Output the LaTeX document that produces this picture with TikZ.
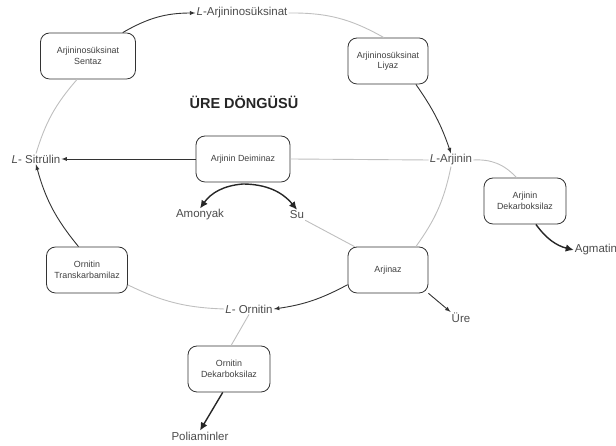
\documentclass[tikz,border=0pt]{standalone}
\usepackage{fontspec}
\setmainfont{Liberation Sans}
\usetikzlibrary{arrows.meta}
\tikzset{
  enzyme/.style={draw=black!80, line width=0.8pt, rounded corners=9pt, minimum width=80pt, minimum height=46pt, align=center, font=\fontsize{8.9}{10.5}\selectfont, text=black!75},
  metab/.style={font=\fontsize{11.5}{13}\selectfont, text=black!70, inner sep=1pt},
  flow/.style={-latex, draw=black!80, line width=0.9pt},
  bigflow/.style={-{Latex[length=8pt,width=7.5pt]}, draw=black!85, line width=1.4pt},
  faint/.style={draw=black!25, line width=0.9pt},
}
\begin{document}
\begin{tikzpicture}[x=1pt,y=1pt]
\useasboundingbox (0,0) rectangle (616,446);
% enzymes
\node[enzyme, minimum width=95pt] (sentaz) at (88,390) {Arjininosüksinat\\Sentaz};
\node[enzyme] (liyaz) at (388,385) {Arjininosüksinat\\Liyaz};
\node[enzyme, minimum width=94pt] (deiminaz) at (243,287) {Arjinin Deiminaz};
\node[enzyme, minimum width=82pt] (adekarb) at (525,245) {Arjinin\\Dekarboksilaz};
\node[enzyme] (arjinaz) at (388,176) {Arjinaz};
\node[enzyme, minimum width=81pt] (transkarb) at (87,176) {Ornitin\\Transkarbamilaz};
\node[enzyme, minimum width=82pt] (odekarb) at (229,77) {Ornitin\\Dekarboksilaz};
% metabolites
\node[metab] (argsuk) at (242,433) {\textit{L}-Arjininosüksinat};
\node[font=\bfseries\fontsize{14.5}{16}\selectfont, text=black!85] (title) at (244,344) {ÜRE DÖNGÜSÜ};
\node[metab] (sitrulin) at (36,287) {\textit{L}- Sitrülin};
\node[metab] (arjinin) at (451,286) {\textit{L}-Arjinin};
\node[metab] (amonyak) at (200,231) {Amonyak};
\node[metab] (su) at (297,231) {Su};
\node[metab] (agmatin) at (596,196) {Agmatin};
\node[metab] (ornitin) at (249,137) {\textit{L}- Ornitin};
\node[metab] (ure) at (461,128) {Üre};
\node[metab] (poliamin) at (200,10) {Poliaminler};
\coordinate (split) at (243,262);
% cycle
\draw[flow] (sentaz.34) to[bend left=15] (argsuk.west);
\draw[faint] (argsuk.east) to[bend left=15] (liyaz.100);
\draw[flow] (liyaz.-40) to[bend left=8] (arjinin.north);
\draw[faint] (arjinin.south) to[bend left=12] (arjinaz.40);
\draw[flow] (arjinaz.200) to[bend left=10] (ornitin.east);
\draw[faint] (ornitin.west) to[bend left=12] (transkarb.-20);
\draw[flow] (transkarb.110) to[bend left=12] (sitrulin.south);
\draw[faint] (sitrulin.north) to[bend left=12] (sentaz.-115);
% side reactions
\draw[faint] (deiminaz.east) -- (arjinin.west);
\draw[flow] (deiminaz.west) -- (sitrulin.east);
\draw[bigflow] (split) to[bend right=25] (amonyak.north);
\draw[bigflow] (split) to[bend left=25] (su.north);
\draw[faint] (su.south east) -- (arjinaz.145);
\draw[flow] (arjinaz.-30) -- (ure.north west);
\draw[faint] (arjinin.east) to[bend left=25] (adekarb.110);
\draw[bigflow] (adekarb.-65) to[bend right=20] (agmatin.west);
\draw[faint] (ornitin.south) -- (odekarb.85);
\draw[bigflow] (odekarb.-105) -- (poliamin.north);
\end{tikzpicture}
\end{document}
